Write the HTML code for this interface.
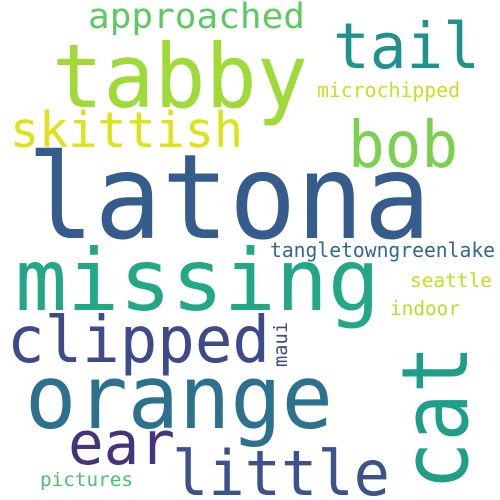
<!DOCTYPE html>
<html><head><meta charset="utf-8"><style>
html,body{margin:0;padding:0;background:#fff}
svg{display:block}
text{font-family:"DejaVu Sans Mono","Liberation Mono",monospace}
</style></head><body>
<svg width="500" height="500" viewBox="0 0 500 500">
<rect width="500" height="500" fill="#fff"/>
<text x="88" y="28" font-size="35" fill="#5ec962" textLength="217" lengthAdjust="spacingAndGlyphs">approached</text>
<text x="333" y="68" font-size="63" fill="#21918c" textLength="147" lengthAdjust="spacingAndGlyphs">tail</text>
<text x="52" y="107" font-size="88" fill="#a0da39" textLength="256" lengthAdjust="spacingAndGlyphs">tabby</text>
<text x="317" y="97" font-size="20" fill="#c8e020" textLength="143" lengthAdjust="spacingAndGlyphs">microchipped</text>
<text x="10" y="147" font-size="49" fill="#dde318" textLength="233" lengthAdjust="spacingAndGlyphs">skittish</text>
<text x="348" y="167" font-size="64" fill="#7ad151" textLength="110" lengthAdjust="spacingAndGlyphs">bob</text>
<text x="27" y="238" font-size="118" fill="#365c8d" textLength="404" lengthAdjust="spacingAndGlyphs">latona</text>
<text x="270" y="257" font-size="20" fill="#31688e" textLength="225" lengthAdjust="spacingAndGlyphs">tangletowngreenlake</text>
<text x="15" y="310" font-size="86" fill="#22a884" textLength="365" lengthAdjust="spacingAndGlyphs">missing</text>
<text x="410" y="287" font-size="19.5" fill="#c0df25" textLength="82" lengthAdjust="spacingAndGlyphs">seattle</text>
<text x="390" y="315" font-size="19.5" fill="#b5de2b" textLength="70" lengthAdjust="spacingAndGlyphs">indoor</text>
<text x="7" y="362" font-size="64" fill="#3e4a89" textLength="263" lengthAdjust="spacingAndGlyphs">clipped</text>
<text transform="translate(287,367) rotate(-90)" font-size="19" fill="#3e4989" textLength="45" lengthAdjust="spacingAndGlyphs">maui</text>
<text transform="translate(467,490) rotate(-90)" font-size="92" fill="#1f9e89" textLength="145" lengthAdjust="spacingAndGlyphs">cat</text>
<text x="25" y="428" font-size="88" fill="#2c728e" textLength="308" lengthAdjust="spacingAndGlyphs">orange</text>
<text x="68" y="464" font-size="60" fill="#46337e" textLength="107" lengthAdjust="spacingAndGlyphs">ear</text>
<text x="40" y="486" font-size="19" fill="#4ac16d" textLength="93" lengthAdjust="spacingAndGlyphs">pictures</text>
<text x="172" y="495" font-size="62" fill="#3b528b" textLength="218" lengthAdjust="spacingAndGlyphs">little</text>
</svg>
</body></html>
